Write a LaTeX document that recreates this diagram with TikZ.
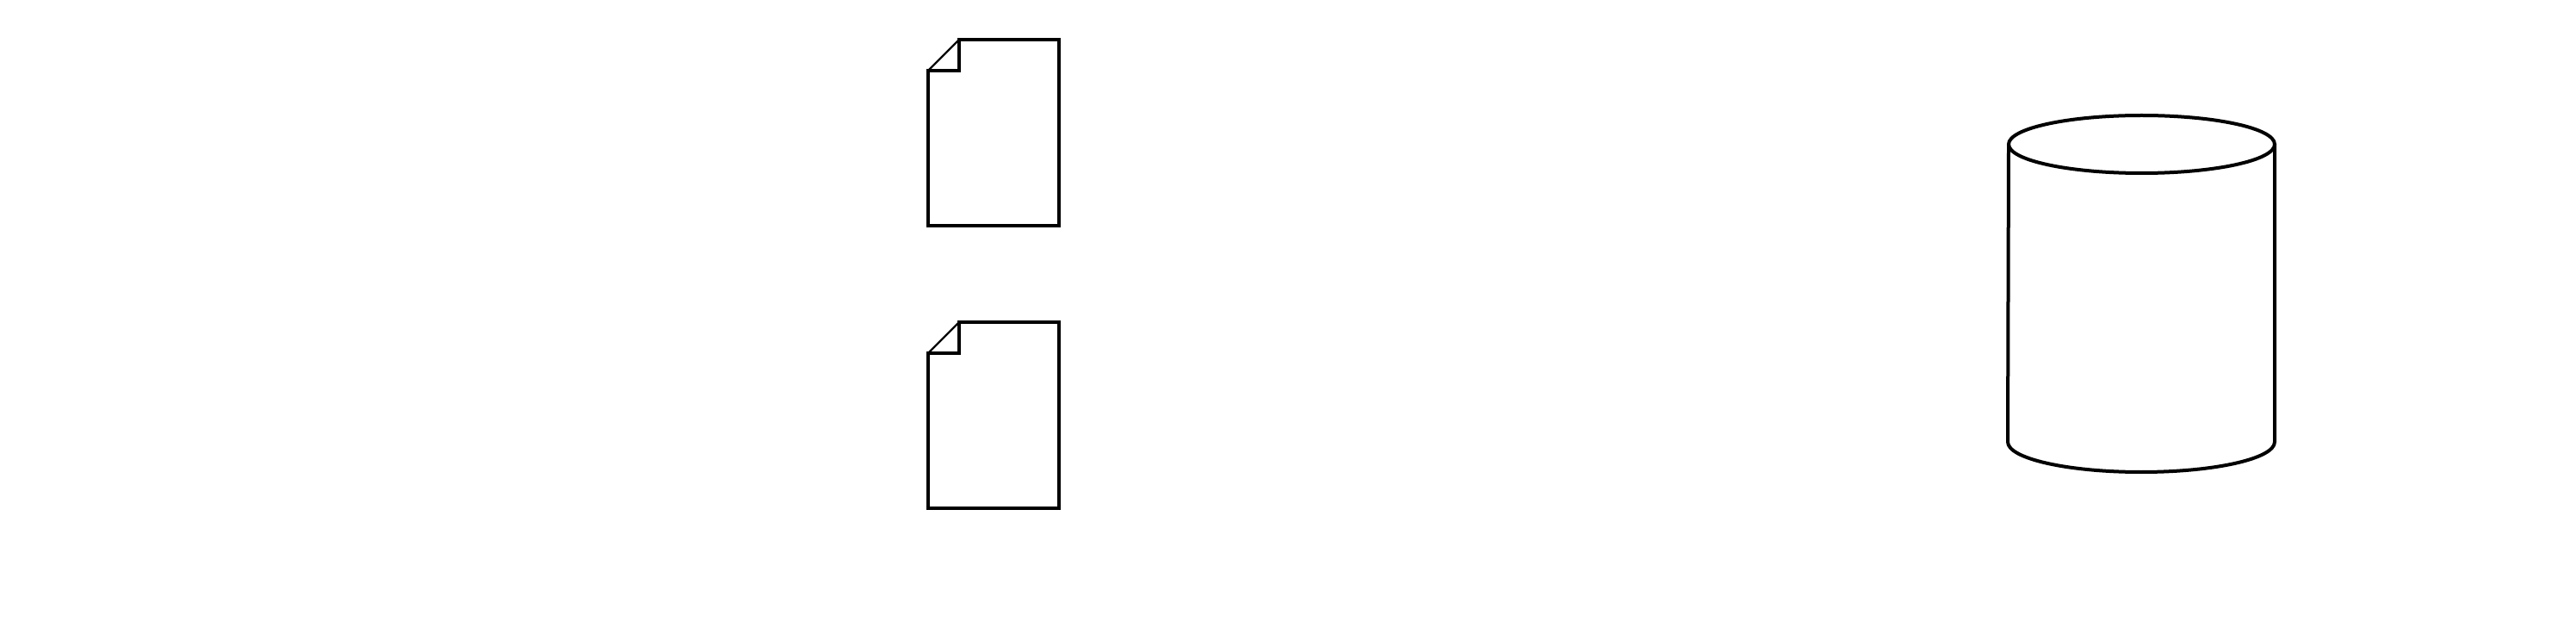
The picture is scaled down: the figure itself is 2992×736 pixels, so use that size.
\documentclass[tikz,border=0pt]{standalone}
\usepackage{tikz}

\begin{document}
\begin{tikzpicture}[x=0.25mm,y=-0.25mm,line join=miter,
  outline/.style={draw=black,line width=1mm},
  fold/.style={draw=black,line width=0.6mm}]
  \useasboundingbox (0,0) rectangle (2992,736);

  % ==========================================
  % DOCUMENTS
  % ==========================================
  \foreach \top in {46,374} {
      % Page outline and folded corner
      \draw[outline] (1114,\top) -- (1230,\top) -- (1230,\top+216) -- (1078,\top+216) -- (1078,\top+36) -- (1114,\top+36) -- cycle;
      \draw[fold] (1078,\top+36) -- (1114,\top);
  }

  % ==========================================
  % CYLINDER
  % ==========================================
  % Body
  \draw[outline] (2333,167.5) -- (2332,513) arc[start angle=180,end angle=0,x radius=155,y radius=35] -- (2642,167.5);
  % Lid
  \draw[outline] (2487.5,167.5) ellipse[x radius=154.5,y radius=33.5];
\end{tikzpicture}
\end{document}
